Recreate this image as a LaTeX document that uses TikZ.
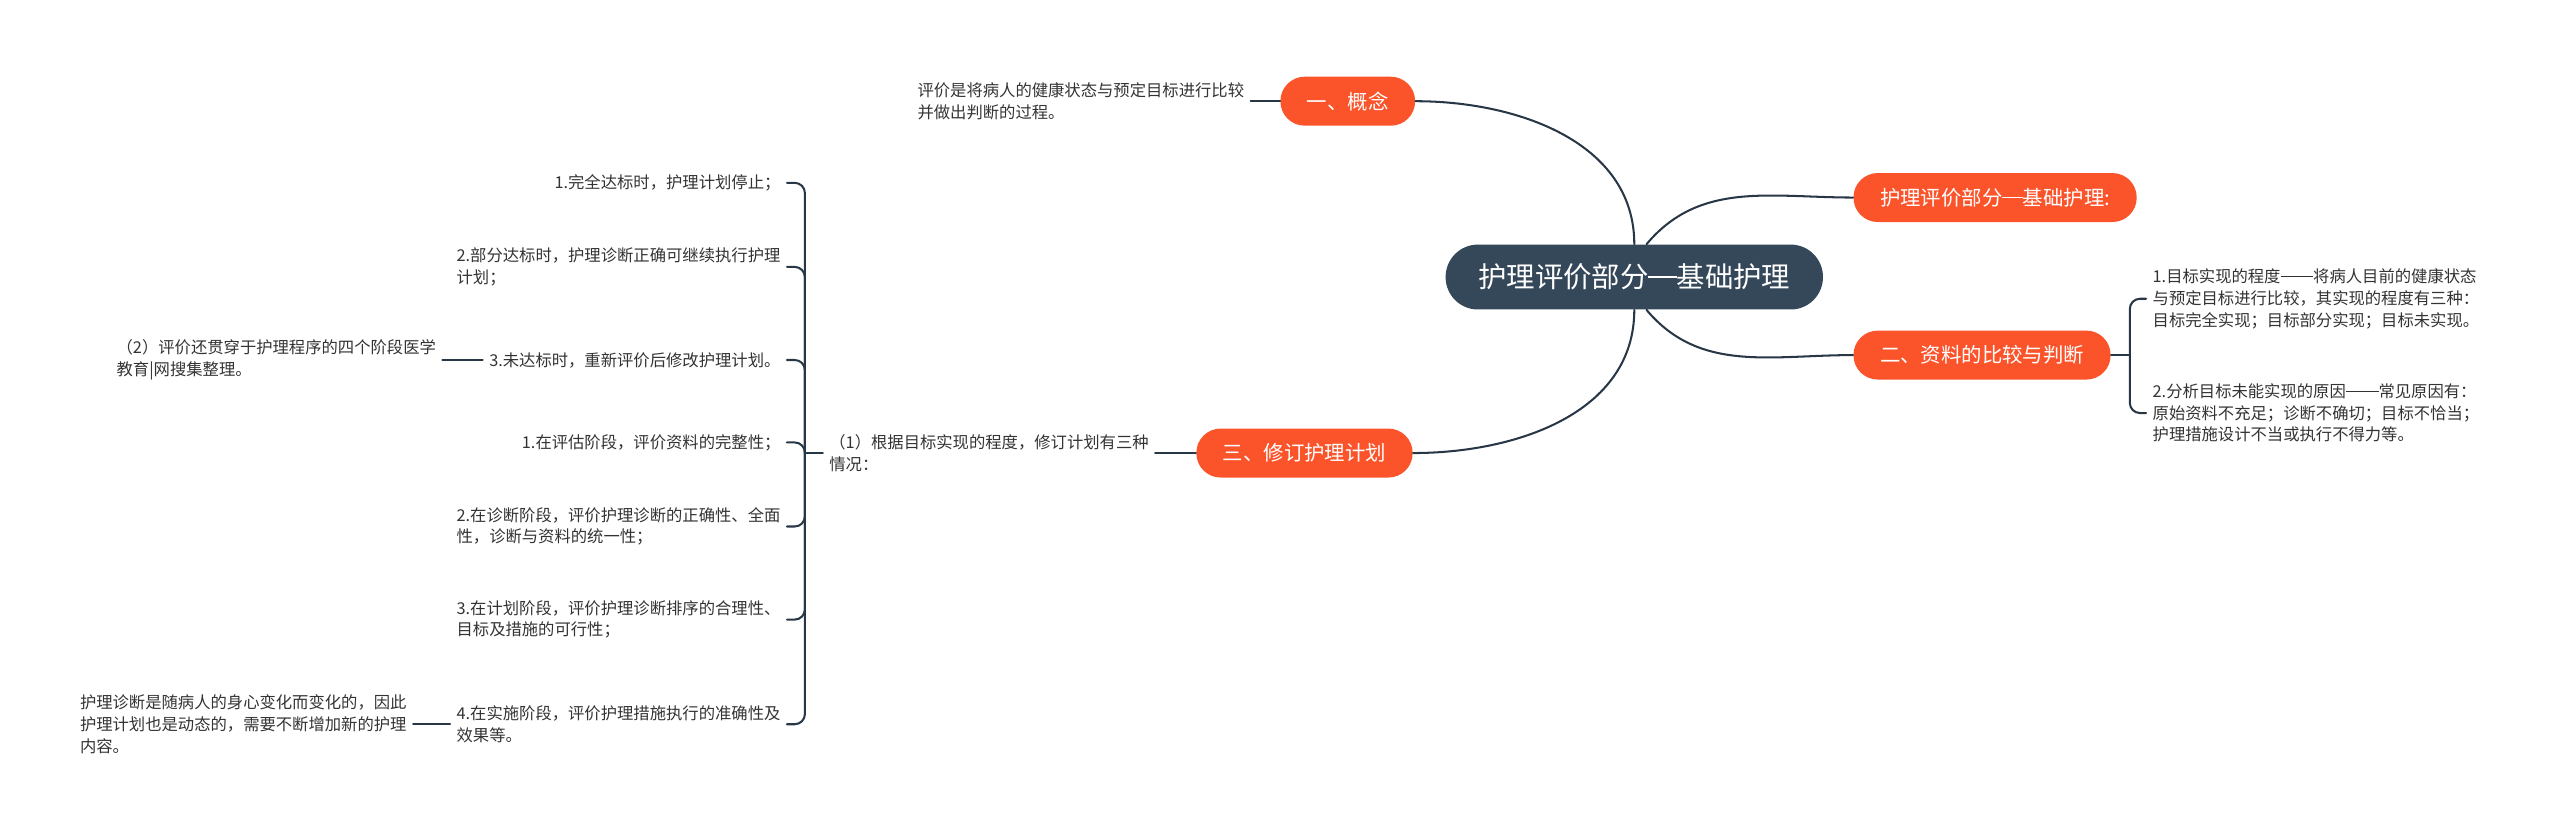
\documentclass[tikz,border=0pt]{standalone}
\usepackage{fontspec}
\setmainfont{Noto Sans CJK SC}
\newcommand\fwdash{\rule[0.34em]{1em}{0.06em}}
\definecolor{rootfill}{RGB}{53,72,90}
\definecolor{branchfill}{RGB}{251,84,43}
\definecolor{linkcol}{RGB}{40,55,70}
\definecolor{leafcol}{RGB}{51,51,51}
\begin{document}
\begin{tikzpicture}[x=0.8pt, y=0.8pt, line cap=round,
  rootbox/.style={fill=rootfill, text=white, rounded corners=15.8pt, minimum height=31.8pt, inner xsep=16pt, font=\fontsize{13.9}{16}\selectfont},
  branchbox/.style={fill=branchfill, text=white, rounded corners=11.9pt, minimum height=24pt, inner xsep=13pt, font=\fontsize{10}{12}\selectfont},
  leaftext/.style={text=leafcol, align=left, inner sep=3pt, font=\fontsize{8}{10.6}\selectfont},
  link/.style={draw=linkcol, line width=1pt}]

\useasboundingbox (0,0) rectangle (1568,511);

% ---------- root and main branches ----------
\node[rootbox] (root) at (1001,341.3) {护理评价部分\fwdash 基础护理};
\node[branchbox] (concept) at (825.5,449) {一、概念};
\node[branchbox, anchor=west] (basic) at (1135,390) {护理评价部分\fwdash 基础护理:};
\node[branchbox, anchor=west] (compare) at (1135,293.5) {二、资料的比较与判断};
\node[branchbox, anchor=east] (revise) at (865.5,233.5) {三、修订护理计划};

\draw[link] (root.north) to[out=90,in=0] (concept.east);
\draw[link] ([xshift=6pt]root.north) to[out=50,in=180] (basic.west);
\draw[link] ([xshift=6pt]root.south) to[out=-50,in=180] (compare.west);
\draw[link] (root.south) to[out=-90,in=0] (revise.east);

% ---------- 一、概念 ----------
\node[leaftext, anchor=east] (concept-txt) at (766,449) {评价是将病人的健康状态与预定目标进行比较\\并做出判断的过程。};
\draw[link] (concept.west) -- (concept-txt.east);

% ---------- 二、资料的比较与判断 ----------
\node[leaftext, anchor=west] (degree) at (1314.5,328) {1.目标实现的程度\fwdash\fwdash 将病人目前的健康状态\\与预定目标进行比较，其实现的程度有三种：\\目标完全实现；目标部分实现；目标未实现。};
\node[leaftext, anchor=west] (cause) at (1314.5,258) {2.分析目标未能实现的原因\fwdash\fwdash 常见原因有：\\原始资料不充足；诊断不确切；目标不恰当；\\护理措施设计不当或执行不得力等。};
\coordinate (compare-k) at (1304.5,293.5);
\draw[link] (compare.east) -- (compare-k);
\draw[link, rounded corners=5pt] (degree.west) -| (compare-k) |- (cause.west);

% ---------- 三、修订护理计划 ----------
\node[leaftext, anchor=west] (cases) at (504,233.5) {（1）根据目标实现的程度，修订计划有三种\\情况：};
\draw[link] (revise.west) -- (cases.east);
\coordinate (cases-k) at (493,233.5);
\draw[link] (cases-k) -- (cases.west);

\node[leaftext, anchor=east] (full) at (482,399) {1.完全达标时，护理计划停止；};
\node[leaftext, anchor=east] (part) at (482,347.5) {2.部分达标时，护理诊断正确可继续执行护理\\计划；};
\node[leaftext, anchor=east] (none) at (482,290.5) {3.未达标时，重新评价后修改护理计划。};
\node[leaftext, anchor=east] (assess) at (482,240) {1.在评估阶段，评价资料的完整性；};
\node[leaftext, anchor=east] (diagnose) at (482,188.5) {2.在诊断阶段，评价护理诊断的正确性、全面\\性，诊断与资料的统一性；};
\node[leaftext, anchor=east] (plan) at (482,131.5) {3.在计划阶段，评价护理诊断排序的合理性、\\目标及措施的可行性；};
\node[leaftext, anchor=east] (carry) at (482,67.4) {4.在实施阶段，评价护理措施执行的准确性及\\效果等。};

\draw[link, rounded corners=5pt] (full.east) -| (cases-k) |- (carry.east);
\foreach \n in {part,none,assess,diagnose,plan}
  \draw[link, rounded corners=5pt] (\n.east) -| (cases-k);

\node[leaftext, anchor=east] (through) at (271,290.5) {（2）评价还贯穿于护理程序的四个阶段医学\\教育|网搜集整理。};
\draw[link] (none.west) -- (through.east);
\node[leaftext, anchor=east] (dynamic) at (253,67.4) {护理诊断是随病人的身心变化而变化的，因此\\护理计划也是动态的，需要不断增加新的护理\\内容。};
\draw[link] (carry.west) -- (dynamic.east);

\end{tikzpicture}
\end{document}
